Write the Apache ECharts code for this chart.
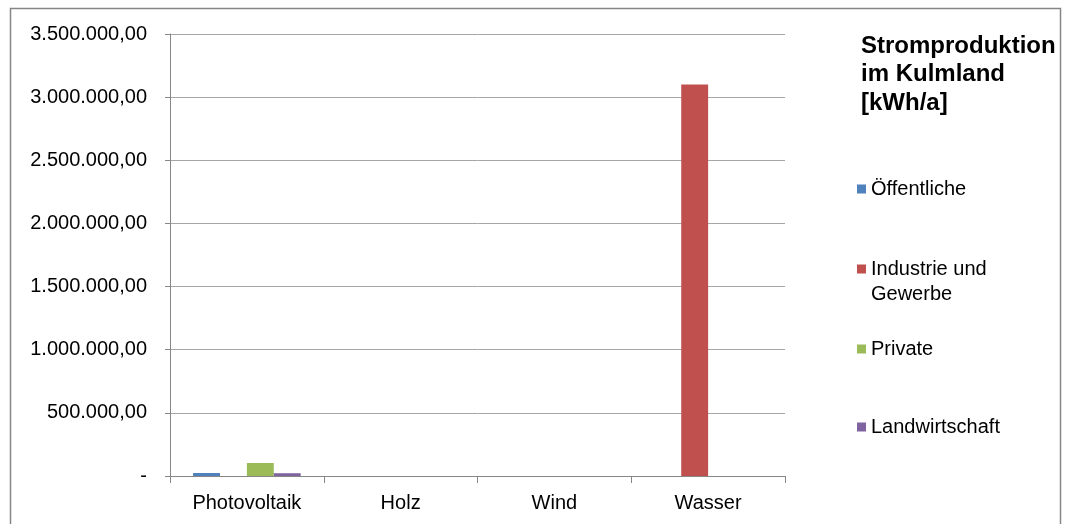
<!DOCTYPE html>
<html>
<head>
<meta charset="utf-8">
<script src="https://cdn.jsdelivr.net/npm/echarts@6/dist/echarts.min.js"></script>
<style>
html,body{margin:0;padding:0;background:#fff;}
#c{width:1071px;height:524px;}
</style>
</head>
<body>
<div id="c"></div>
<script>
const categories = ['Photovoltaik', 'Holz', 'Wind', 'Wasser'];
const oeffentliche = [24000, 0, 0, 0];
const industrie = [0, 0, 0, 3100000];
const privat = [103000, 0, 0, 0];
const landwirtschaft = [22000, 0, 0, 0];
const seriesNames = ['Öffentliche', 'Industrie und Gewerbe', 'Private', 'Landwirtschaft'];
const yTicks = [0, 500000, 1000000, 1500000, 2000000, 2500000, 3000000, 3500000];
const colors = ['#4F81BD', '#C0504D', '#9BBB59', '#8064A2'];

function fmt(v) {
  if (v === 0) return '-';
  const s = String(Math.round(v)).replace(/\B(?=(\d{3})+(?!\d))/g, '.');
  return s + ',00';
}

const font = 'Liberation Sans, Arial, sans-serif';
const chart = echarts.init(document.getElementById('c'), null, {renderer: 'canvas'});
const data = [oeffentliche, industrie, privat, landwirtschaft];

const legendTops = [174, 254, 334, 412];
const legends = seriesNames.map((n, i) => ({
  data: [n],
  left: 852,
  top: legendTops[i],
  orient: 'vertical',
  itemWidth: 9,
  itemHeight: 9,
  itemGap: 5,
  icon: 'rect',
  selectedMode: false,
  formatter: i === 1 ? '{a|Industrie und}\n{a|Gewerbe}' : '{a|' + n + '}',
  textStyle: {
    fontFamily: font,
    fontSize: 20,
    color: '#000',
    padding: i === 1 ? [25, 0, 0, 0] : 0,
    rich: { a: { fontFamily: font, fontSize: 20, color: '#000', lineHeight: 25 } }
  }
}));

chart.setOption({
  animation: false,
  color: colors,
  title: {
    text: 'Stromproduktion\nim Kulmland\n[kWh/a]',
    left: 856,
    top: 27,
    textStyle: { fontFamily: font, fontSize: 24, fontWeight: 'bold', color: '#000', lineHeight: 28.5 }
  },
  legend: legends,
  graphic: [{
    type: 'rect',
    shape: { x: 10.5, y: 8.5, width: 1050, height: 530 },
    style: { fill: 'none', stroke: '#868686', lineWidth: 1.5 },
    silent: true
  }],
  grid: { left: 170, right: 286, top: 34, bottom: 48 },
  xAxis: {
    type: 'category',
    data: categories,
    axisLine: { lineStyle: { color: '#868686', width: 1 } },
    axisTick: { show: true, length: 7, lineStyle: { color: '#868686' } },
    axisLabel: { fontFamily: font, fontSize: 20, color: '#000', margin: 17 }
  },
  yAxis: {
    type: 'value',
    min: 0,
    max: 3500000,
    interval: 500000,
    axisLine: { show: true, lineStyle: { color: '#868686', width: 1 } },
    axisTick: { show: true, length: 5, lineStyle: { color: '#868686' } },
    splitLine: { lineStyle: { color: '#A6A6A6', width: 1 } },
    axisLabel: { fontFamily: font, fontSize: 20, color: '#000', margin: 23, formatter: fmt }
  },
  series: seriesNames.map((n, i) => ({
    name: n,
    type: 'bar',
    data: data[i],
    barGap: '0%',
    barCategoryGap: '30%',
    itemStyle: { color: colors[i] }
  }))
});
</script>
</body>
</html>
